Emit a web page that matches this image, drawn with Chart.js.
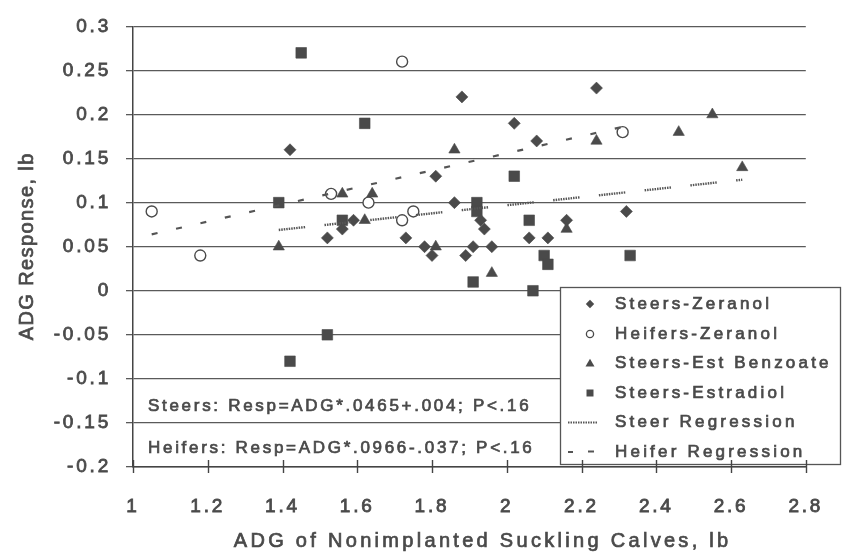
<!DOCTYPE html>
<html><head><meta charset="utf-8">
<script src="https://cdn.jsdelivr.net/npm/chart.js@4.4.1/dist/chart.umd.min.js"></script>
<style>html,body{margin:0;padding:0;background:#fff;} canvas{display:block;}</style>
</head><body>
<canvas id="c" width="847" height="554"></canvas>
<script>
// ---- tick labels ----
const xTickValues = [1, 1.2, 1.4, 1.6, 1.8, 2, 2.2, 2.4, 2.6, 2.8];
const xTickLabels = ['1', '1.2', '1.4', '1.6', '1.8', '2', '2.2', '2.4', '2.6', '2.8'];
const yTickValues = [-0.2, -0.15, -0.1, -0.05, 0, 0.05, 0.1, 0.15, 0.2, 0.25, 0.3];
const yTickLabels = ['-0.2', '-0.15', '-0.1', '-0.05', '0', '0.05', '0.1', '0.15', '0.2', '0.25', '0.3'];

// ---- series (x = ADG of nonimplanted calves, y = ADG response) ----
const steersZeranolX = [1.42, 1.88, 2.02, 2.08, 1.81, 1.86, 1.59, 1.56, 1.93, 1.94, 1.52, 1.73, 2.06, 2.11, 1.78, 1.80, 1.91, 1.96, 1.89, 2.24, 2.32, 2.16];
const steersZeranolY = [0.16, 0.22, 0.19, 0.17, 0.13, 0.10, 0.08, 0.07, 0.08, 0.07, 0.06, 0.06, 0.06, 0.06, 0.05, 0.04, 0.05, 0.05, 0.04, 0.23, 0.09, 0.08];

const heifersZeranolX = [1.05, 1.18, 1.72, 1.53, 1.63, 1.75, 1.72, 2.31];
const heifersZeranolY = [0.09, 0.04, 0.26, 0.11, 0.10, 0.09, 0.08, 0.18];

const steersEstBenzoateX = [1.39, 1.86, 1.56, 1.64, 1.62, 1.81, 1.96, 2.55, 2.46, 2.24, 2.63, 2.16];
const steersEstBenzoateY = [0.05, 0.16, 0.11, 0.11, 0.08, 0.05, 0.02, 0.20, 0.18, 0.17, 0.14, 0.07];

const steersEstradiolX = [1.39, 1.45, 1.62, 2.02, 1.92, 1.92, 1.56, 2.06, 2.10, 2.11, 1.91, 2.33, 2.07, 1.52, 1.42];
const steersEstradiolY = [0.10, 0.27, 0.19, 0.13, 0.10, 0.09, 0.08, 0.08, 0.04, 0.03, 0.01, 0.04, 0.00, -0.05, -0.08];

// regression line end points
const steerRegX = [1.39, 2.63];
const steerRegY = [0.069, 0.126];
const heiferRegX = [1.05, 2.31];
const heiferRegY = [0.064, 0.186];

const legendLabels = ['Steers-Zeranol', 'Heifers-Zeranol', 'Steers-Est Benzoate', 'Steers-Estradiol', 'Steer Regression', 'Heifer Regression'];
const noteSteers = 'Steers: Resp=ADG*.0465+.004; P<.16';
const noteHeifers = 'Heifers: Resp=ADG*.0966-.037; P<.16';
const xTitle = 'ADG of Nonimplanted Suckling Calves, lb';
const yTitle = 'ADG Response, lb';

// ---- styles ----
const FONT = "'Liberation Sans', Arial, sans-serif";
const TEXT = '#4a4a4a';
const MARK = '#4a4a4a';
const GRID = '#5a5a5a';

function pts(xs, ys) { return xs.map((x, i) => ({ x: x, y: ys[i] })); }

const steerDash = [];
for (let i = 0; i < 11; i++) { steerDash.push(1.5, 1); }
steerDash[steerDash.length - 1] = 19.5;

function drawMarker(ctx, type, x, y, r) {
  ctx.save();
  ctx.fillStyle = MARK; ctx.strokeStyle = MARK; ctx.lineWidth = 1.3;
  ctx.beginPath();
  if (type === 'diamond') {
    ctx.moveTo(x, y - r); ctx.lineTo(x + r, y); ctx.lineTo(x, y + r); ctx.lineTo(x - r, y); ctx.closePath(); ctx.fill();
  } else if (type === 'circle') {
    ctx.arc(x, y, r, 0, Math.PI * 2); ctx.fillStyle = '#fff'; ctx.fill(); ctx.stroke();
  } else if (type === 'triangle') {
    ctx.moveTo(x, y - r); ctx.lineTo(x + r * 0.866, y + r / 2); ctx.lineTo(x - r * 0.866, y + r / 2); ctx.closePath(); ctx.fill();
  } else if (type === 'square') {
    ctx.rect(x - r, y - r, 2 * r, 2 * r); ctx.fill();
  }
  ctx.restore();
}

function spacedText(ctx, txt, x, y, size, spacing, align) {
  ctx.save();
  ctx.font = size + 'px ' + FONT;
  ctx.fillStyle = TEXT;
  ctx.strokeStyle = TEXT;
  ctx.lineWidth = 0.7;
  ctx.letterSpacing = spacing + 'px';
  ctx.textBaseline = 'middle';
  let w = ctx.measureText(txt).width;
  let sx = x;
  if (align === 'center') sx = x - (w - spacing) / 2;
  ctx.textAlign = 'left';
  ctx.fillText(txt, sx, y);
  ctx.strokeText(txt, sx, y);
  ctx.restore();
}

const decor = {
  id: 'decor',
  beforeDraw(chart) { chart.ctx.letterSpacing = '2.8px'; },
  afterDraw(chart) {
    const ctx = chart.ctx;
    const xs = chart.scales.x;
    const bottom = chart.chartArea.bottom;
    // legend box
    ctx.save();
    ctx.fillStyle = '#fff';
    ctx.fillRect(560, 287, 280, 177);
    ctx.strokeStyle = '#555'; ctx.lineWidth = 1.3;
    ctx.strokeRect(560.5, 287.5, 280, 177);
    ctx.restore();
    // crossing x tick marks
    ctx.save();
    ctx.strokeStyle = '#444'; ctx.lineWidth = 1.4;
    xTickValues.forEach(v => {
      const px = Math.round(xs.getPixelForValue(v)) + 0.5;
      ctx.beginPath(); ctx.moveTo(px, bottom - 7); ctx.lineTo(px, bottom + 6); ctx.stroke();
    });
    ctx.restore();
    // legend items
    const rows = [304, 334, 363.5, 393, 422.5, 452];
    const mx = 590;
    drawMarker(ctx, 'diamond', mx, rows[0], 4.2);
    drawMarker(ctx, 'circle', mx, rows[1], 3.6);
    drawMarker(ctx, 'triangle', mx, rows[2] + 0.5, 5.2);
    drawMarker(ctx, 'square', mx, rows[3], 3.5);
    ctx.save();
    ctx.strokeStyle = '#555'; ctx.lineWidth = 2;
    ctx.setLineDash([1.5, 1]);
    ctx.beginPath(); ctx.moveTo(568, rows[4]); ctx.lineTo(598, rows[4]); ctx.stroke();
    ctx.setLineDash([]);
    ctx.beginPath(); ctx.moveTo(568, rows[5]); ctx.lineTo(573, rows[5]); ctx.stroke();
    ctx.beginPath(); ctx.moveTo(588, rows[5] - 0.5); ctx.lineTo(594, rows[5] - 0.5); ctx.stroke();
    ctx.restore();
    legendLabels.forEach((t, i) => spacedText(ctx, t, 615, rows[i], 17, 3.2, 'left'));
    // regression notes
    spacedText(ctx, noteSteers, 148, 406.5, 17, 2.7, 'left');
    spacedText(ctx, noteHeifers, 148, 448.3, 17, 2.7, 'left');
    // axis titles
    spacedText(ctx, xTitle, 481, 541, 20, 3.3, 'center');
    ctx.save();
    ctx.translate(27, 247);
    ctx.rotate(-Math.PI / 2);
    spacedText(ctx, yTitle, 0, 0, 20, 1.4, 'center');
    ctx.restore();
  }
};

new Chart(document.getElementById('c'), {
  type: 'scatter',
  data: {
    datasets: [
      { label: 'Heifer Regression', data: pts(heiferRegX, heiferRegY), showLine: true, pointRadius: 0,
        borderColor: '#555', borderWidth: 2.2, borderDash: [6, 19], fill: false },
      { label: 'Steer Regression', data: pts(steerRegX, steerRegY), showLine: true, pointRadius: 0,
        borderColor: '#555', borderWidth: 2.4, borderDash: steerDash, fill: false },
      { label: 'Steers-Zeranol', data: pts(steersZeranolX, steersZeranolY), pointStyle: 'rectRot',
        pointRadius: 6, backgroundColor: MARK, borderColor: MARK, borderWidth: 0.6 },
      { label: 'Steers-Est Benzoate', data: pts(steersEstBenzoateX, steersEstBenzoateY), pointStyle: 'triangle',
        pointRadius: 6.5, backgroundColor: MARK, borderColor: MARK, borderWidth: 0.6 },
      { label: 'Steers-Estradiol', data: pts(steersEstradiolX, steersEstradiolY), pointStyle: 'rect',
        pointRadius: 7.5, backgroundColor: MARK, borderColor: MARK, borderWidth: 0.6 },
      { label: 'Heifers-Zeranol', data: pts(heifersZeranolX, heifersZeranolY), pointStyle: 'circle',
        pointRadius: 5.5, backgroundColor: '#fff', borderColor: MARK, borderWidth: 1.4 }
    ]
  },
  options: {
    responsive: false,
    animation: false,
    devicePixelRatio: 1,
    layout: { padding: { top: 21, right: 19, left: 0, bottom: 0 } },
    plugins: { legend: { display: false }, tooltip: { enabled: false } },
    scales: {
      x: {
        type: 'linear', min: 1, max: 2.8,
        afterBuildTicks: s => { s.ticks = xTickValues.map(v => ({ value: v })); },
        afterFit: s => { s.height = 87; },
        grid: { display: false, drawTicks: false },
        border: { display: true, color: '#444', width: 1.5 },
        ticks: { padding: 28, color: TEXT, textStrokeColor: TEXT, textStrokeWidth: 0.8,
          font: { family: FONT, size: 19 },
          callback: (v, i) => xTickLabels[i], maxRotation: 0, autoSkip: false }
      },
      y: {
        type: 'linear', min: -0.2, max: 0.3,
        afterBuildTicks: s => { s.ticks = yTickValues.map(v => ({ value: v })); },
        afterFit: s => { s.width = 133; },
        grid: { color: GRID, lineWidth: 1.3, tickLength: 7, drawTicks: true },
        border: { display: true, color: '#444', width: 1.5 },
        ticks: { padding: 15, color: TEXT, textStrokeColor: TEXT, textStrokeWidth: 0.8,
          font: { family: FONT, size: 19 },
          callback: (v, i) => yTickLabels[i], autoSkip: false }
      }
    }
  },
  plugins: [decor]
});
</script>
</body></html>
